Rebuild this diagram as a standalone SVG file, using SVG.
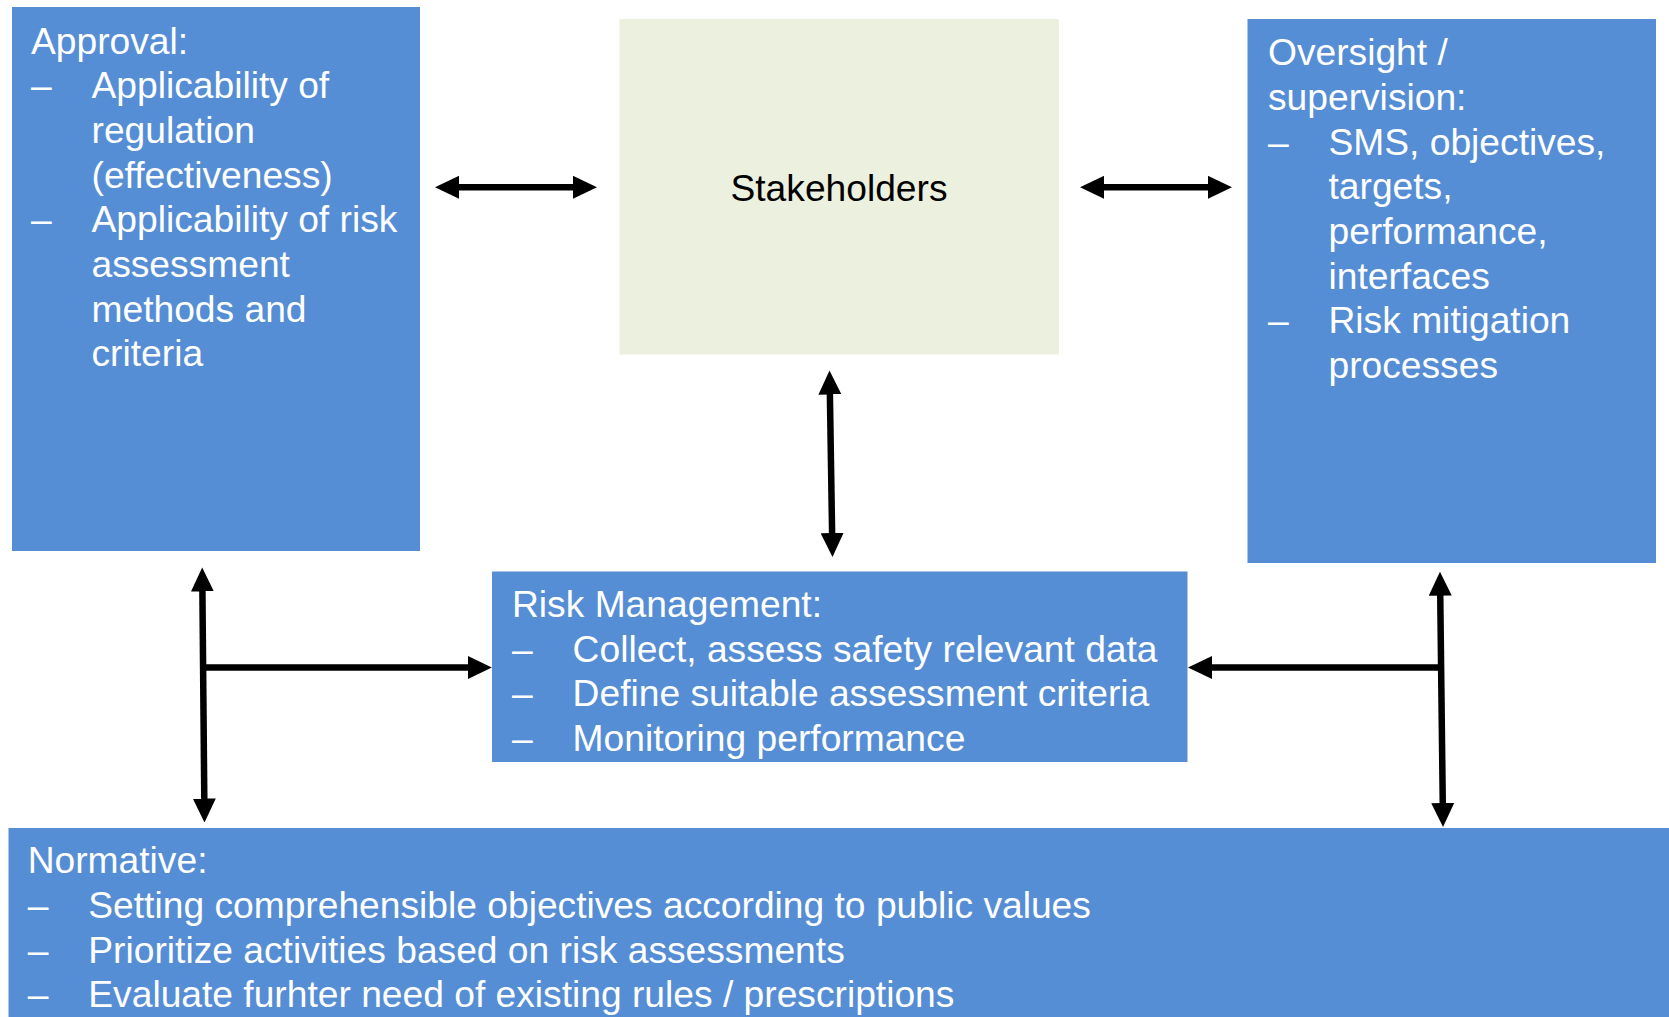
<svg xmlns="http://www.w3.org/2000/svg" width="1669" height="1017" viewBox="0 0 1669 1017">
<style>
.box{fill:#558ED5;}
.stk{fill:#EBF1DE;}
.t{font-family:"Liberation Sans",Arial,sans-serif;font-size:37.2px;fill:#FFFFFF;}
.tb{font-family:"Liberation Sans",Arial,sans-serif;font-size:37.2px;fill:#000000;}
.c{stroke:#000;stroke-width:6.5;fill:none;}
</style>
<defs>
<marker id="ah" markerUnits="userSpaceOnUse" markerWidth="24" markerHeight="23" refX="12" refY="11.5" orient="auto-start-reverse" viewBox="0 0 24 23">
<path d="M0,0 L24,11.5 L0,23 Z" fill="#000"/>
</marker>
</defs>
<rect width="1669" height="1017" fill="#FFFFFF"/>
<g id="approval">
<rect class="box" x="12" y="7" width="408" height="544"/>
<text class="t">
<tspan x="31" y="53.5">Approval:</tspan>
<tspan x="31" y="98.2">–</tspan><tspan x="91.5" y="98.2">Applicability of</tspan>
<tspan x="91.5" y="142.9">regulation</tspan>
<tspan x="91.5" y="187.6">(effectiveness)</tspan>
<tspan x="31" y="232.3">–</tspan><tspan x="91.5" y="232.3">Applicability of risk</tspan>
<tspan x="91.5" y="277">assessment</tspan>
<tspan x="91.5" y="321.7">methods and</tspan>
<tspan x="91.5" y="366.4">criteria</tspan>
</text>
</g>
<g id="stakeholders">
<rect class="stk" x="619.5" y="19" width="439.5" height="335.5"/>
<text class="tb" x="839" y="201" text-anchor="middle">Stakeholders</text>
</g>
<g id="oversight">
<rect class="box" x="1247.5" y="19" width="408.5" height="544"/>
<text class="t">
<tspan x="1268" y="65.2">Oversight /</tspan>
<tspan x="1268" y="109.9">supervision:</tspan>
<tspan x="1268" y="154.6">–</tspan><tspan x="1328.5" y="154.6">SMS, objectives,</tspan>
<tspan x="1328.5" y="199.3">targets,</tspan>
<tspan x="1328.5" y="244">performance,</tspan>
<tspan x="1328.5" y="288.7">interfaces</tspan>
<tspan x="1268" y="333.4">–</tspan><tspan x="1328.5" y="333.4">Risk mitigation</tspan>
<tspan x="1328.5" y="378.1">processes</tspan>
</text>
</g>
<g id="risk-management">
<rect class="box" x="492" y="571.5" width="695.5" height="190.5"/>
<text class="t">
<tspan x="512" y="616.8">Risk Management:</tspan>
<tspan x="512" y="661.5">–</tspan><tspan x="572.6" y="661.5">Collect, assess safety relevant data</tspan>
<tspan x="512" y="706.2">–</tspan><tspan x="572.6" y="706.2">Define suitable assessment criteria</tspan>
<tspan x="512" y="750.9">–</tspan><tspan x="572.6" y="750.9">Monitoring performance</tspan>
</text>
</g>
<g id="normative">
<rect class="box" x="8.5" y="828" width="1660.5" height="189"/>
<text class="t">
<tspan x="27.7" y="873.3">Normative:</tspan>
<tspan x="27.7" y="918">–</tspan><tspan x="88.3" y="918">Setting comprehensible objectives according to public values</tspan>
<tspan x="27.7" y="962.7">–</tspan><tspan x="88.3" y="962.7">Prioritize activities based on risk assessments</tspan>
<tspan x="27.7" y="1007.4">–</tspan><tspan x="88.3" y="1007.4">Evaluate furhter need of existing rules / prescriptions</tspan>
</text>
</g>
<g id="connectors">
<line class="c" x1="447" y1="187.3" x2="585" y2="187.3" marker-start="url(#ah)" marker-end="url(#ah)"/>
<line class="c" x1="1092" y1="187.3" x2="1220" y2="187.3" marker-start="url(#ah)" marker-end="url(#ah)"/>
<line class="c" x1="829.7" y1="382.5" x2="832.3" y2="545" marker-start="url(#ah)" marker-end="url(#ah)"/>
<line class="c" x1="202.3" y1="579.5" x2="204.4" y2="810.5" marker-start="url(#ah)" marker-end="url(#ah)"/>
<line class="c" x1="200.5" y1="667.5" x2="479.8" y2="667.5" marker-end="url(#ah)"/>
<line class="c" x1="1440.1" y1="583.7" x2="1442.9" y2="815" marker-start="url(#ah)" marker-end="url(#ah)"/>
<line class="c" x1="1444" y1="667.5" x2="1200" y2="667.5" marker-end="url(#ah)"/>
</g>
</svg>
